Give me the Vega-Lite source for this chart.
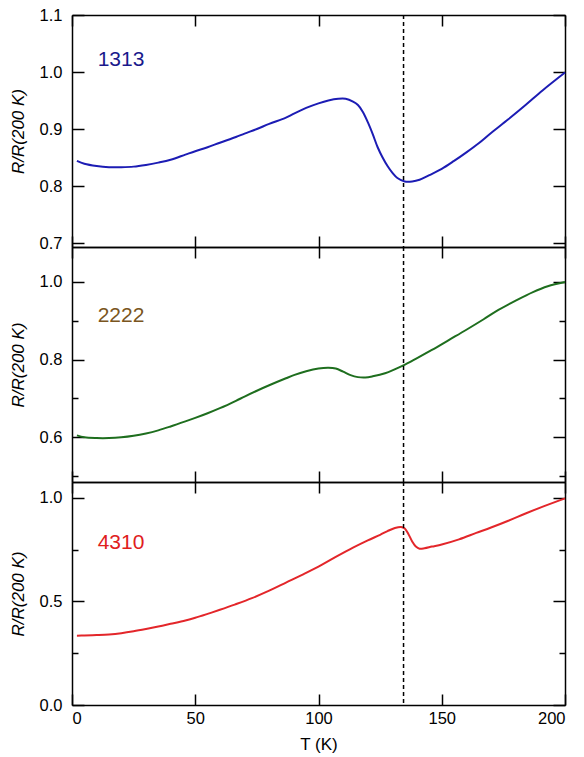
{
  "$schema": "https://vega.github.io/schema/vega-lite/v6.json",
  "padding": {"left": 9, "top": 7, "right": 14, "bottom": 5},
  "background": "white",
  "spacing": 0,
  "bounds": "flush",
  "config": {
    "font": "Liberation Sans",
    "view": {"stroke": null},
    "axis": {
      "grid": false,
      "domainColor": "black",
      "domainWidth": 1.5,
      "tickColor": "black",
      "tickWidth": 1.5,
      "labelColor": "black",
      "labelFont": "Liberation Sans",
      "labelFontSize": 16.5,
      "titleColor": "black",
      "titleFont": "Liberation Sans",
      "titleFontWeight": "normal",
      "titleFontSize": 17
    },
    "axisLeft": {"titleFontStyle": "italic", "titleFontSize": 17}
  },
  "datasets": {
    "p1": [
      {"T": 2, "v": 0.844}, {"T": 5, "v": 0.839}, {"T": 10, "v": 0.835}, {"T": 15, "v": 0.833},
      {"T": 20, "v": 0.833}, {"T": 25, "v": 0.834}, {"T": 30, "v": 0.837}, {"T": 35, "v": 0.841},
      {"T": 40, "v": 0.846}, {"T": 46, "v": 0.855}, {"T": 50, "v": 0.861}, {"T": 55, "v": 0.868},
      {"T": 60, "v": 0.876}, {"T": 66.5, "v": 0.886}, {"T": 70, "v": 0.892}, {"T": 75, "v": 0.900},
      {"T": 80, "v": 0.909}, {"T": 86.8, "v": 0.920}, {"T": 90, "v": 0.927}, {"T": 95, "v": 0.937},
      {"T": 100, "v": 0.945}, {"T": 104, "v": 0.950}, {"T": 108, "v": 0.953}, {"T": 111, "v": 0.953},
      {"T": 114, "v": 0.948}, {"T": 116, "v": 0.942}, {"T": 118, "v": 0.930}, {"T": 120, "v": 0.912},
      {"T": 122, "v": 0.891}, {"T": 124, "v": 0.868}, {"T": 126, "v": 0.850}, {"T": 128, "v": 0.835},
      {"T": 130, "v": 0.823}, {"T": 132, "v": 0.814}, {"T": 135, "v": 0.808},
      {"T": 138, "v": 0.808}, {"T": 141, "v": 0.811}, {"T": 145, "v": 0.819}, {"T": 150, "v": 0.830},
      {"T": 155, "v": 0.844}, {"T": 160, "v": 0.859}, {"T": 165, "v": 0.875}, {"T": 170, "v": 0.893},
      {"T": 177, "v": 0.917}, {"T": 184, "v": 0.942}, {"T": 191, "v": 0.968}, {"T": 200, "v": 0.999}
    ],
    "p2": [
      {"T": 2, "v": 0.605}, {"T": 5, "v": 0.600}, {"T": 10, "v": 0.598}, {"T": 15, "v": 0.598},
      {"T": 20, "v": 0.600}, {"T": 25, "v": 0.604}, {"T": 30, "v": 0.610}, {"T": 35, "v": 0.618},
      {"T": 40, "v": 0.628}, {"T": 46, "v": 0.641}, {"T": 50, "v": 0.650}, {"T": 55, "v": 0.662},
      {"T": 60, "v": 0.675}, {"T": 66.5, "v": 0.694}, {"T": 70, "v": 0.705}, {"T": 75, "v": 0.720},
      {"T": 80, "v": 0.734}, {"T": 86.8, "v": 0.752}, {"T": 90, "v": 0.760}, {"T": 95, "v": 0.770},
      {"T": 100, "v": 0.777}, {"T": 104, "v": 0.779}, {"T": 107, "v": 0.777}, {"T": 110, "v": 0.769},
      {"T": 113, "v": 0.760}, {"T": 116, "v": 0.755}, {"T": 119, "v": 0.754}, {"T": 122, "v": 0.757},
      {"T": 127, "v": 0.765}, {"T": 134, "v": 0.784}, {"T": 140, "v": 0.804}, {"T": 146, "v": 0.825},
      {"T": 153, "v": 0.851}, {"T": 160, "v": 0.877}, {"T": 167, "v": 0.904}, {"T": 173, "v": 0.928},
      {"T": 180, "v": 0.952}, {"T": 187, "v": 0.974}, {"T": 193, "v": 0.989}, {"T": 200, "v": 1.000}
    ],
    "p3": [
      {"T": 2, "v": 0.335}, {"T": 5, "v": 0.336}, {"T": 10, "v": 0.338}, {"T": 15, "v": 0.341},
      {"T": 20, "v": 0.347}, {"T": 25, "v": 0.356}, {"T": 30, "v": 0.367}, {"T": 35, "v": 0.379},
      {"T": 40, "v": 0.392}, {"T": 46, "v": 0.408}, {"T": 50, "v": 0.421}, {"T": 55, "v": 0.440},
      {"T": 60, "v": 0.460}, {"T": 66, "v": 0.485}, {"T": 73, "v": 0.516}, {"T": 80, "v": 0.552},
      {"T": 87, "v": 0.592}, {"T": 94, "v": 0.632}, {"T": 100, "v": 0.668}, {"T": 107, "v": 0.715},
      {"T": 114, "v": 0.760}, {"T": 120, "v": 0.795}, {"T": 125, "v": 0.822}, {"T": 128, "v": 0.840},
      {"T": 131, "v": 0.855}, {"T": 133.5, "v": 0.860}, {"T": 135, "v": 0.852}, {"T": 136.5, "v": 0.825},
      {"T": 138, "v": 0.790}, {"T": 139.5, "v": 0.765}, {"T": 141, "v": 0.755}, {"T": 143, "v": 0.757},
      {"T": 146, "v": 0.765}, {"T": 150, "v": 0.775}, {"T": 157, "v": 0.800}, {"T": 164, "v": 0.831},
      {"T": 170, "v": 0.857}, {"T": 177, "v": 0.890}, {"T": 184, "v": 0.925}, {"T": 191, "v": 0.958},
      {"T": 200, "v": 0.998}
    ],
    "vline": [{"T": 134.5}],
    "lab1": [{"T": 10.4, "v": 1.021, "label": "1313"}],
    "lab2": [{"T": 10.4, "v": 0.913, "label": "2222"}],
    "lab3": [{"T": 10.4, "v": 0.784, "label": "4310"}]
  },
  "vconcat": [
    {
      "width": 493,
      "height": 232,
      "resolve": {"axis": {"x": "independent", "y": "independent"}},
      "layer": [
        {
          "data": {"name": "p1"},
          "mark": {"type": "line", "color": "#1c1cb4", "strokeWidth": 2, "interpolate": "catmull-rom"},
          "encoding": {
            "x": {"field": "T", "type": "quantitative", "scale": {"domain": [0, 200], "nice": false},
                  "axis": {"orient": "bottom", "values": [0, 50, 100, 150, 200], "tickSize": -11, "labels": false, "title": null}},
            "y": {"field": "v", "type": "quantitative", "scale": {"domain": [0.693, 1.1], "nice": false, "zero": false},
                  "axis": {"orient": "left", "values": [0.7, 0.8, 0.9, 1.0, 1.1], "format": ".1f", "tickSize": -12, "labelPadding": 22,
                           "title": "R/R(200 K)", "titleFontStyle": "italic", "titleFontSize": 17, "titlePadding": 12}}
          }
        },
        {
          "data": {"name": "vline"},
          "mark": {"type": "rule", "color": "black", "strokeWidth": 1.5, "strokeDash": [4, 3]},
          "encoding": {
            "x": {"field": "T", "type": "quantitative",
                  "axis": {"orient": "top", "values": [0, 50, 100, 150, 200], "tickSize": -11, "labels": false, "title": null}}
          }
        },
        {
          "data": {"name": "lab1"},
          "mark": {"type": "text", "align": "left", "baseline": "middle", "fontSize": 21, "color": "#1a1a8c"},
          "encoding": {
            "x": {"field": "T", "type": "quantitative", "axis": null},
            "y": {"field": "v", "type": "quantitative",
                  "axis": {"orient": "right", "values": [0.7, 0.8, 0.9, 1.0, 1.1], "tickSize": -12, "labels": false, "title": null}},
            "text": {"field": "label"}
          }
        }
      ]
    },
    {
      "width": 493,
      "height": 235,
      "resolve": {"axis": {"x": "independent", "y": "independent"}},
      "layer": [
        {
          "data": {"name": "p2"},
          "mark": {"type": "line", "color": "#1e6e1e", "strokeWidth": 2, "interpolate": "catmull-rom"},
          "encoding": {
            "x": {"field": "T", "type": "quantitative", "scale": {"domain": [0, 200], "nice": false},
                  "axis": {"orient": "bottom", "values": [0, 50, 100, 150, 200], "tickSize": -11, "labels": false, "title": null}},
            "y": {"field": "v", "type": "quantitative", "scale": {"domain": [0.485, 1.09], "nice": false, "zero": false},
                  "axis": {"orient": "left", "values": [0.5, 0.6, 0.7, 0.8, 0.9, 1.0], "format": ".1f",
                           "labelExpr": "datum.value == 0.6 || datum.value == 0.8 || datum.value == 1 ? datum.label : ''",
                           "tickSize": {"condition": {"test": "datum.value == 0.6 || datum.value == 0.8 || datum.value == 1", "value": -12}, "value": -6},
                           "labelPadding": 22,
                           "title": "R/R(200 K)", "titleFontStyle": "italic", "titleFontSize": 17, "titlePadding": 12}}
          }
        },
        {
          "data": {"name": "vline"},
          "mark": {"type": "rule", "color": "black", "strokeWidth": 1.5, "strokeDash": [4, 3]},
          "encoding": {
            "x": {"field": "T", "type": "quantitative",
                  "axis": {"orient": "top", "values": [0, 50, 100, 150, 200], "tickSize": -11, "labels": false, "title": null}}
          }
        },
        {
          "data": {"name": "lab2"},
          "mark": {"type": "text", "align": "left", "baseline": "middle", "fontSize": 21, "color": "#7a5520"},
          "encoding": {
            "x": {"field": "T", "type": "quantitative", "axis": null},
            "y": {"field": "v", "type": "quantitative",
                  "axis": {"orient": "right", "values": [0.5, 0.6, 0.7, 0.8, 0.9, 1.0], "labels": false, "title": null,
                           "tickSize": {"condition": {"test": "datum.value == 0.6 || datum.value == 0.8 || datum.value == 1", "value": -12}, "value": -6}}},
            "text": {"field": "label"}
          }
        }
      ]
    },
    {
      "width": 493,
      "height": 223,
      "resolve": {"axis": {"x": "independent", "y": "independent"}},
      "layer": [
        {
          "data": {"name": "p3"},
          "mark": {"type": "line", "color": "#e3262a", "strokeWidth": 2, "interpolate": "catmull-rom"},
          "encoding": {
            "x": {"field": "T", "type": "quantitative", "scale": {"domain": [0, 200], "nice": false},
                  "axis": {"orient": "bottom", "values": [0, 50, 100, 150, 200], "tickSize": -11, "labelPadding": 16,
                           "title": "T (K)", "titleFontSize": 17, "titlePadding": 10}},
            "y": {"field": "v", "type": "quantitative", "scale": {"domain": [0, 1.077], "nice": false, "zero": false},
                  "axis": {"orient": "left", "values": [0, 0.25, 0.5, 0.75, 1.0], "format": ".1f",
                           "labelExpr": "datum.value == 0 || datum.value == 0.5 || datum.value == 1 ? datum.label : ''",
                           "tickSize": {"condition": {"test": "datum.value == 0 || datum.value == 0.5 || datum.value == 1", "value": -12}, "value": -6},
                           "labelPadding": 22,
                           "title": "R/R(200 K)", "titleFontStyle": "italic", "titleFontSize": 17, "titlePadding": 12}}
          }
        },
        {
          "data": {"name": "vline"},
          "mark": {"type": "rule", "color": "black", "strokeWidth": 1.5, "strokeDash": [4, 3]},
          "encoding": {
            "x": {"field": "T", "type": "quantitative",
                  "axis": {"orient": "top", "values": [0, 50, 100, 150, 200], "tickSize": -11, "labels": false, "title": null}}
          }
        },
        {
          "data": {"name": "lab3"},
          "mark": {"type": "text", "align": "left", "baseline": "middle", "fontSize": 21, "color": "#e0201c"},
          "encoding": {
            "x": {"field": "T", "type": "quantitative", "axis": null},
            "y": {"field": "v", "type": "quantitative",
                  "axis": {"orient": "right", "values": [0, 0.25, 0.5, 0.75, 1.0], "labels": false, "title": null,
                           "tickSize": {"condition": {"test": "datum.value == 0 || datum.value == 0.5 || datum.value == 1", "value": -12}, "value": -6}}},
            "text": {"field": "label"}
          }
        }
      ]
    }
  ]
}
